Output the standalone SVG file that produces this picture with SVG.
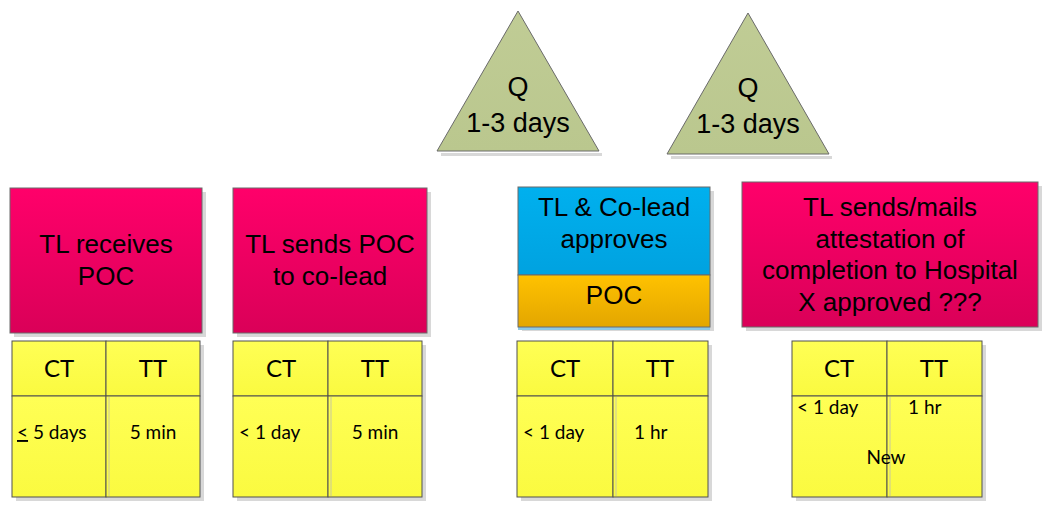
<svg xmlns="http://www.w3.org/2000/svg" width="1057" height="509" viewBox="0 0 1057 509">
  <defs>
    <linearGradient id="gPink" x1="0" y1="0" x2="0" y2="1">
      <stop offset="0" stop-color="#FF006A"/>
      <stop offset="1" stop-color="#DA0058"/>
    </linearGradient>
    <linearGradient id="gBlue" x1="0" y1="0" x2="0" y2="1">
      <stop offset="0" stop-color="#00B0EE"/>
      <stop offset="1" stop-color="#00A2E0"/>
    </linearGradient>
    <linearGradient id="gOrange" x1="0" y1="0" x2="0" y2="1">
      <stop offset="0" stop-color="#FFC200"/>
      <stop offset="1" stop-color="#E3A600"/>
    </linearGradient>
    <linearGradient id="gYellow" x1="0" y1="0" x2="0" y2="1">
      <stop offset="0" stop-color="#FFFF55"/>
      <stop offset="1" stop-color="#FAFA40"/>
    </linearGradient>
    <linearGradient id="gGreen" x1="0" y1="0" x2="0" y2="1">
      <stop offset="0" stop-color="#C0CC95"/>
      <stop offset="1" stop-color="#BAC78E"/>
    </linearGradient>
  </defs>
  <style>
    .shadow { fill: #D8D8D8; }
    .box { stroke: #6A6A6A; stroke-width: 1; }
    .pink { fill: url(#gPink); }
    .blue { fill: url(#gBlue); }
    .orange { fill: url(#gOrange); }
    .tri { fill: url(#gGreen); stroke: #6A6A6A; stroke-width: 1; }
    .cell { fill: url(#gYellow); stroke: #505050; stroke-width: 1; }
    .seam { stroke: #C8C8A0; stroke-width: 1; }
    .big { font-family: "Liberation Sans", Arial, sans-serif; font-size: 26px; fill: #000; text-anchor: middle; }
    .tri-t { font-family: "Liberation Sans", Arial, sans-serif; font-size: 27px; fill: #000; text-anchor: middle; }
    .hd { font-family: Lato, "Open Sans", sans-serif; font-size: 24px; fill: #000; text-anchor: middle; }
    .val { font-family: Lato, "Open Sans", sans-serif; font-size: 19px; fill: #000; }
  </style>

  <!-- queue triangles -->
  <g id="queue1">
    <polygon points="441,153 602,153 602,156 441,156" class="shadow"/>
    <polygon class="tri" points="518,11 599,151 437,151"/>
    <text class="tri-t" x="518" y="96">Q</text>
    <text class="tri-t" x="518" y="132">1-3 days</text>
  </g>
  <g id="queue2">
    <polygon points="671,156 832,156 832,159 671,159" class="shadow"/>
    <polygon class="tri" points="748,13 829,154 667,154"/>
    <text class="tri-t" x="748" y="97">Q</text>
    <text class="tri-t" x="748" y="133">1-3 days</text>
  </g>

  <!-- process steps -->
  <g id="step1">
    <rect x="14" y="192" width="192" height="145" class="shadow"/>
    <rect x="10" y="188" width="192" height="145" class="box pink"/>
    <text class="big" x="106" y="253">TL receives</text>
    <text class="big" x="106" y="285">POC</text>
  </g>
  <g id="step2">
    <rect x="237" y="192" width="194" height="145" class="shadow"/>
    <rect x="233" y="188" width="194" height="145" class="box pink"/>
    <text class="big" x="330" y="253">TL sends POC</text>
    <text class="big" x="330" y="285">to co-lead</text>
  </g>
  <g id="step3">
    <rect x="522" y="191" width="192" height="140" class="shadow"/>
    <rect x="518" y="327" width="192" height="3" fill="#8CC8E6"/>
    <rect x="518" y="187" width="192" height="88" class="box blue"/>
    <rect x="518" y="275" width="192" height="52" class="box orange"/>
    <text class="big" x="614" y="216">TL &amp; Co-lead</text>
    <text class="big" x="614" y="248">approves</text>
    <text class="big" x="614" y="304">POC</text>
  </g>
  <g id="step4">
    <rect x="746" y="186" width="296" height="145" class="shadow"/>
    <rect x="742" y="182" width="296" height="145" class="box pink"/>
    <text class="big" x="890" y="216">TL sends/mails</text>
    <text class="big" x="890" y="248">attestation of</text>
    <text class="big" x="890" y="279">completion to Hospital</text>
    <text class="big" x="890" y="311">X approved ???</text>
  </g>

  <!-- CT / TT tables -->
  <g id="times1">
    <rect x="16" y="345" width="188" height="156" class="shadow"/>
    <rect x="12" y="341" width="94" height="55" class="cell"/>
    <rect x="106" y="341" width="94" height="55" class="cell"/>
    <rect x="12" y="396" width="94" height="101" class="cell"/>
    <rect x="106" y="396" width="94" height="101" class="cell"/>
    <line x1="109" y1="397" x2="109" y2="496" class="seam"/>
    <text class="hd" x="59" y="377">CT</text>
    <text class="hd" x="153" y="377">TT</text>
    <text class="val" x="17" y="439"><tspan text-decoration="underline">&lt;</tspan> 5 days</text>
    <text class="val" x="153" y="439" text-anchor="middle">5 min</text>
  </g>
  <g id="times2">
    <rect x="237" y="345" width="189" height="156" class="shadow"/>
    <rect x="233" y="341" width="95" height="55" class="cell"/>
    <rect x="328" y="341" width="94" height="55" class="cell"/>
    <rect x="233" y="396" width="95" height="101" class="cell"/>
    <rect x="328" y="396" width="94" height="101" class="cell"/>
    <line x1="331" y1="397" x2="331" y2="496" class="seam"/>
    <text class="hd" x="281" y="377">CT</text>
    <text class="hd" x="375" y="377">TT</text>
    <text class="val" x="239" y="439">&lt; 1 day</text>
    <text class="val" x="375" y="439" text-anchor="middle">5 min</text>
  </g>
  <g id="times3">
    <rect x="521" y="345" width="191" height="156" class="shadow"/>
    <rect x="517" y="341" width="96" height="55" class="cell"/>
    <rect x="613" y="341" width="95" height="55" class="cell"/>
    <rect x="517" y="396" width="96" height="101" class="cell"/>
    <rect x="613" y="396" width="95" height="101" class="cell"/>
    <line x1="616" y1="397" x2="616" y2="496" class="seam"/>
    <text class="hd" x="565" y="377">CT</text>
    <text class="hd" x="660" y="377">TT</text>
    <text class="val" x="523" y="439">&lt; 1 day</text>
    <text class="val" x="634" y="439">1 hr</text>
  </g>
  <g id="times4">
    <rect x="796" y="345" width="190" height="156" class="shadow"/>
    <rect x="792" y="341" width="95" height="55" class="cell"/>
    <rect x="887" y="341" width="95" height="55" class="cell"/>
    <rect x="792" y="396" width="95" height="101" class="cell"/>
    <rect x="887" y="396" width="95" height="101" class="cell"/>
    <line x1="890" y1="397" x2="890" y2="496" class="seam"/>
    <text class="hd" x="839" y="377">CT</text>
    <text class="hd" x="934" y="377">TT</text>
    <text class="val" x="797" y="414">&lt; 1 day</text>
    <text class="val" x="908" y="414">1 hr</text>
    <text class="val" x="886" y="464" text-anchor="middle">New</text>
  </g>

  <!-- no connectors are drawn between the steps -->
  <g id="connectors"/>
</svg>
